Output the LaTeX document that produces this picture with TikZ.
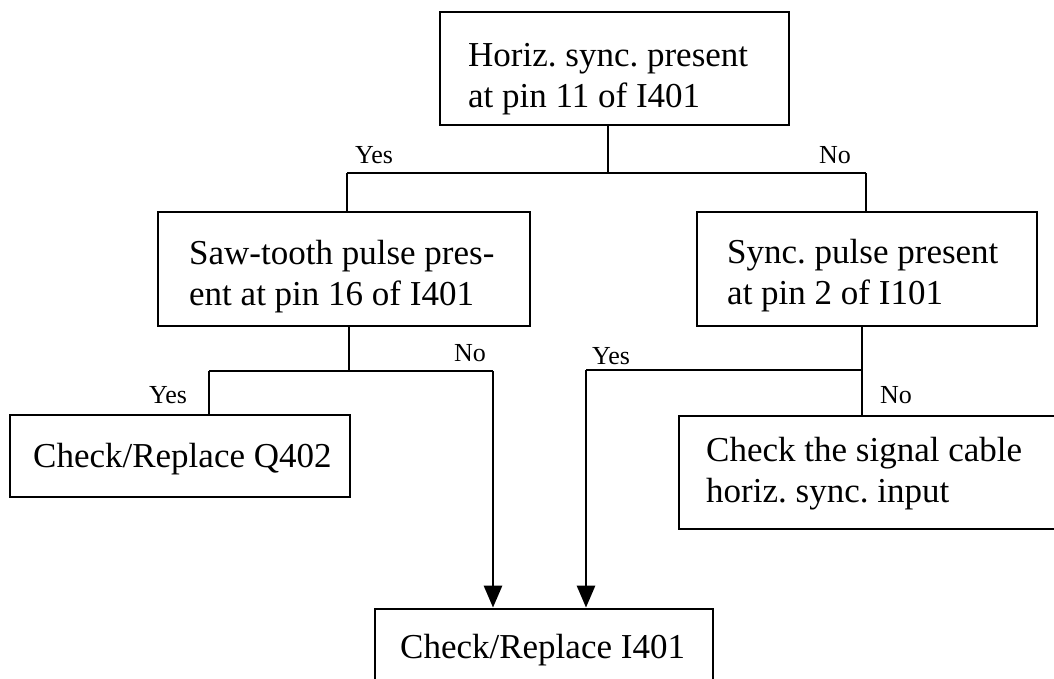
\documentclass[tikz,border=0pt]{standalone}
\usepackage{fontspec}
\setmainfont{Liberation Serif}
\frenchspacing
\usetikzlibrary{arrows.meta}
\tikzset{
  box/.style={draw, line width=2.8pt, inner sep=0pt},
  txt/.style={inner sep=0pt, align=left, anchor=base west,
    font=\fontsize{35}{41}\selectfont\frenchspacing},
  lbl/.style={inner sep=0pt, font=\fontsize{26}{28}\selectfont},
  conn/.style={line width=2.8pt},
  arr/.style={conn, -{Triangle[length=22pt,width=18pt]}}
}
\begin{document}
\begin{tikzpicture}[x=1pt,y=-1pt]
\useasboundingbox (0,0) rectangle (1054,678);
% boxes
\node[box, minimum width=349pt, minimum height=113pt] (top) at (614.5,68.5) {};
\node[box, minimum width=372pt, minimum height=114pt] (left) at (344,269) {};
\node[box, minimum width=340pt, minimum height=114pt] (right) at (867,269) {};
\node[box, minimum width=340pt, minimum height=82pt] (q402) at (180,456) {};
\node[box, minimum width=390pt, minimum height=113pt] (cable) at (874,472.5) {};
\node[box, minimum width=338pt, minimum height=90pt] (i401) at (544,654) {};
% texts (anchor = baseline of the last line)
\node[txt] (topt) at (468,107) {Horiz. sync. present\\at pin 11 of I401};
\node[txt] (leftt) at (189,305) {Saw-tooth pulse pres-\\ent at pin 16 of I401};
\node[txt] (rightt) at (727,304) {Sync. pulse present\\at pin 2 of I101};
\node[txt] (q402t) at (33,467) {Check/Replace Q402};
\node[txt] (cablet) at (706,502) {Check the signal cable\\horiz. sync. input};
\node[txt] (i401t) at (400,658) {Check/Replace I401};
% junctions
\coordinate (j1) at (608,173);
\coordinate (jl) at (347,173);
\coordinate (jr) at (866,173);
\coordinate (k1) at (349,371);
\coordinate (kl) at (209,371);
\coordinate (kr) at (493,371);
\coordinate (m1) at (862,370);
\coordinate (ml) at (586,370);
% connectors
\draw[conn] (j1 |- top.south) -- (j1);
\draw[conn] (jl) -- (jr);
\draw[conn] (jl) -- (jl |- left.north);
\draw[conn] (jr) -- (jr |- right.north);
\draw[conn] (k1 |- left.south) -- (k1);
\draw[conn] (kl) -- (kr);
\draw[conn] (kl) -- (kl |- q402.north);
\draw[arr] (kr) -- (kr |- i401.north);
\draw[conn] (m1 |- right.south) -- (m1 |- cable.north);
\draw[conn] (ml) -- (m1);
\draw[arr] (ml) -- (ml |- i401.north);
% labels
\node[lbl] (y1) at (374,155) {Yes};
\node[lbl] (n1) at (835,155) {No};
\node[lbl] (n2) at (470,353) {No};
\node[lbl] (y2) at (168,395) {Yes};
\node[lbl] (y3) at (611,356) {Yes};
\node[lbl] (n3) at (896,395) {No};
\end{tikzpicture}
\end{document}
